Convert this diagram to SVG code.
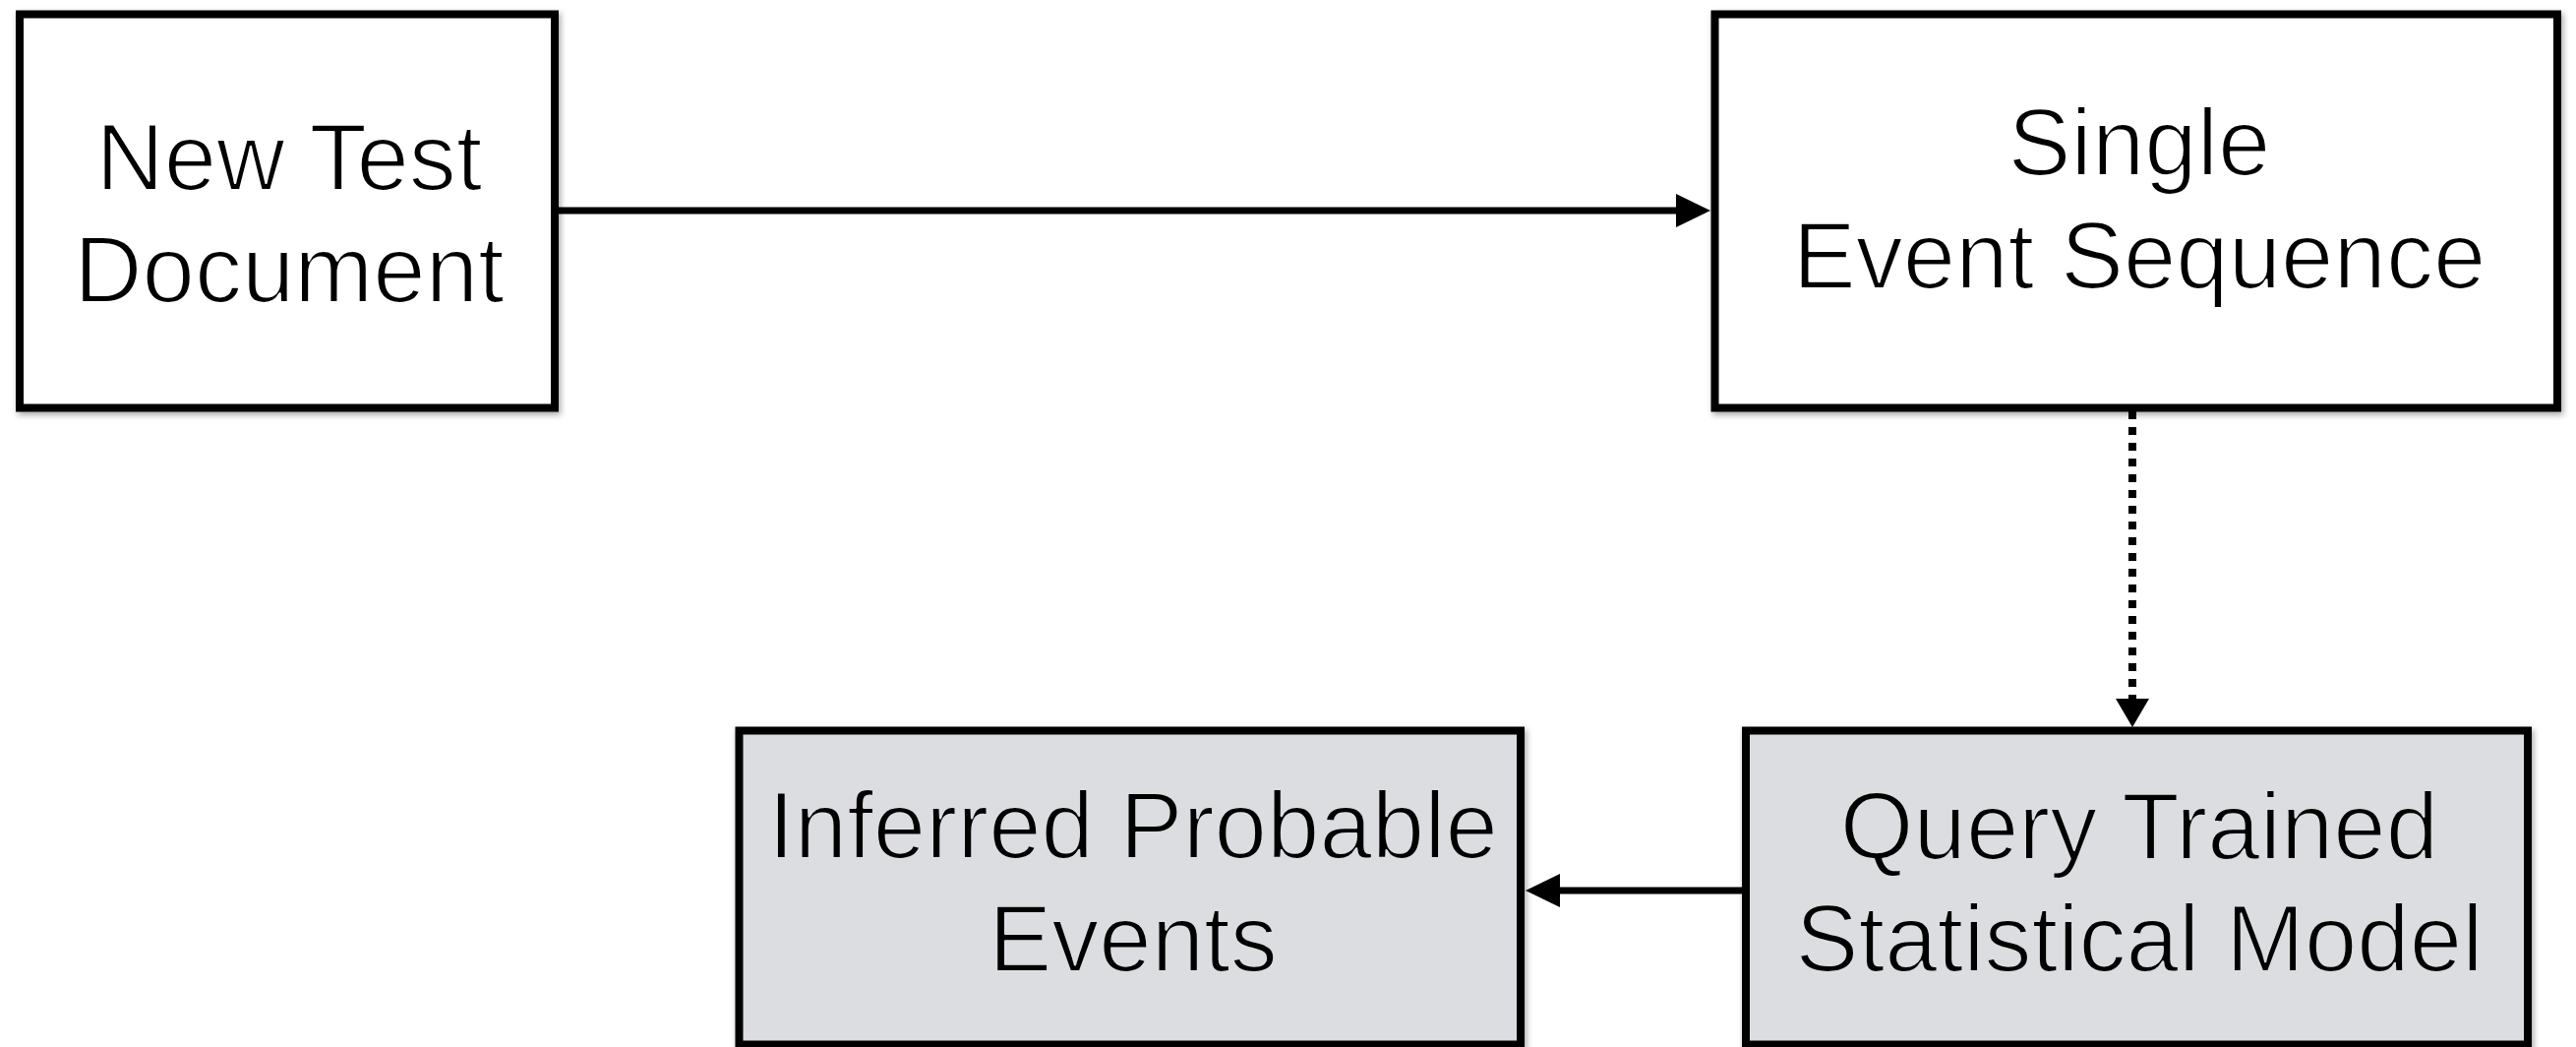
<svg xmlns="http://www.w3.org/2000/svg" width="2619" height="1064" viewBox="0 0 2619 1064">
  <style>
    .box { stroke: #000; stroke-width: 8; }
    .white { fill: #ffffff; }
    .gray { fill: #dcdde0; }
    .label { font-family: "Liberation Sans", Arial, sans-serif; font-size: 96px; fill: #000; text-anchor: middle; stroke-width: 2.2; stroke-linejoin: round; }
    .on-white { stroke: #ffffff; }
    .on-gray { stroke: #dcdde0; }
    .line { stroke: #000; stroke-width: 7; fill: none; }
    .dotted { stroke: #000; stroke-width: 8; fill: none; stroke-dasharray: 8 8; }
    .head { fill: #000; }
  </style>
  <defs>
    <filter id="shadow" x="-5%" y="-5%" width="110%" height="110%">
      <feDropShadow dx="2" dy="3" stdDeviation="3" flood-color="#000" flood-opacity="0.35"/>
    </filter>
  </defs>
  <rect width="2619" height="1064" fill="#ffffff"/>

  <g id="node-new-test-document">
    <rect class="box white" x="20" y="14.5" width="544" height="400" filter="url(#shadow)"/>
    <text class="label on-white" x="294" y="192.7">New Test</text>
    <text class="label on-white" x="294" y="306.7">Document</text>
  </g>

  <g id="node-single-event-sequence">
    <rect class="box white" x="1743.5" y="14.5" width="856.5" height="400" filter="url(#shadow)"/>
    <text class="label on-white" x="2175" y="178.3">Single</text>
    <text class="label on-white" x="2175" y="293.3">Event Sequence</text>
  </g>

  <g id="node-inferred-probable-events">
    <rect class="box gray" x="751.5" y="742.5" width="794.5" height="319" filter="url(#shadow)"/>
    <text class="label on-gray" x="1152" y="871.7">Inferred Probable</text>
    <text class="label on-gray" x="1152" y="986.7">Events</text>
  </g>

  <g id="node-query-trained-statistical-model">
    <rect class="box gray" x="1775" y="742.5" width="795" height="319" filter="url(#shadow)"/>
    <text class="label on-gray" x="2175" y="873.4">Query Trained</text>
    <text class="label on-gray" x="2175" y="987">Statistical Model</text>
  </g>

  <g id="connectors">
    <line class="line" x1="568" y1="214" x2="1706" y2="214"/>
    <polygon class="head" points="1704,197 1739,214 1704,231"/>

    <line class="dotted" x1="2168" y1="418" x2="2168" y2="712"/>
    <polygon class="head" points="2151,710 2185,710 2168,739"/>

    <line class="line" x1="1771" y1="905" x2="1584" y2="905"/>
    <polygon class="head" points="1586,888 1551,905 1586,922"/>
  </g>
</svg>
